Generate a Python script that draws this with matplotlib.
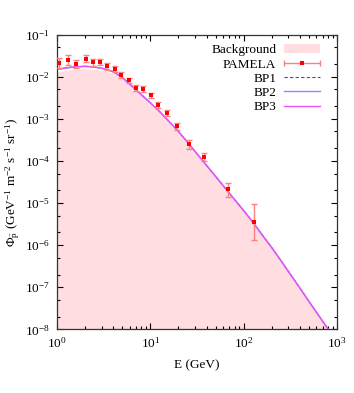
"""
Antiproton flux vs energy: background band, PAMELA data and three benchmark points.
"""

import matplotlib
matplotlib.use("Agg")
import matplotlib.pyplot as plt
from matplotlib.legend_handler import HandlerBase
from matplotlib.lines import Line2D
from matplotlib.patches import Patch
from matplotlib.ticker import LogLocator, NullFormatter

plt.rcParams["font.family"] = ["Liberation Serif", "DejaVu Serif"]
plt.rcParams["mathtext.fontset"] = "stix"
plt.rcParams["mathtext.default"] = "regular"

# ---- data ----
energy = [1.0, 1.26, 1.58, 2.0, 2.51, 3.16, 3.98, 5.01, 6.31, 7.94, 10.0,
          12.6, 15.8, 20.0, 25.1, 31.6, 39.8, 50.1, 63.1, 79.4, 100.0,
          126, 158, 200, 251, 316, 398, 501, 631, 794, 1000]

bp_flux = [1.48e-2, 1.62e-2, 1.72e-2, 1.76e-2, 1.70e-2, 1.55e-2, 1.32e-2,
           9.55e-3, 6.03e-3, 3.80e-3, 2.40e-3, 1.48e-3, 8.71e-4, 5.01e-4,
           2.75e-4, 1.48e-4, 7.94e-5, 4.27e-5, 2.29e-5, 1.23e-5, 6.61e-6,
           3.47e-6, 1.74e-6, 8.71e-7, 4.27e-7, 2.04e-7, 9.77e-8, 4.57e-8,
           2.19e-8, 1.05e-8, 5.0e-9]

bkg_flux = [1.26e-2, 1.38e-2, 1.46e-2, 1.50e-2, 1.46e-2, 1.36e-2, 1.18e-2,
            8.90e-3, 5.80e-3, 3.70e-3, 2.35e-3, 1.46e-3, 8.60e-4, 4.95e-4,
            2.72e-4, 1.47e-4, 7.90e-5, 4.25e-5, 2.28e-5, 1.22e-5, 6.58e-6,
            3.45e-6, 1.73e-6, 8.68e-7, 4.25e-7, 2.03e-7, 9.74e-8, 4.56e-8,
            2.18e-8, 1.05e-8, 5.0e-9]

pam_e = [1.06, 1.32, 1.61, 2.03, 2.43, 2.89, 3.46, 4.15, 4.89, 5.86,
         6.97, 8.41, 10.1, 12.2, 15.1, 19.5, 26.2, 37.6, 67.5, 129]
pam_flux = [2.12e-2, 2.44e-2, 2.00e-2, 2.68e-2, 2.19e-2, 2.24e-2, 1.76e-2,
            1.52e-2, 1.12e-2, 8.2e-3, 5.4e-3, 5.1e-3, 3.6e-3, 2.1e-3,
            1.38e-3, 6.6e-4, 2.5e-4, 1.27e-4, 2.2e-5, 3.5e-6]
pam_low = [1.61e-2, 1.86e-2, 1.61e-2, 2.19e-2, 1.83e-2, 1.86e-2, 1.47e-2,
           1.26e-2, 9.46e-3, 7.0e-3, 4.64e-3, 4.4e-3, 3.08e-3, 1.78e-3,
           1.15e-3, 5.5e-4, 1.9e-4, 1.02e-4, 1.4e-5, 1.35e-6]
pam_high = [2.79e-2, 3.34e-2, 2.54e-2, 3.34e-2, 2.68e-2, 2.68e-2, 2.09e-2,
            1.83e-2, 1.32e-2, 9.46e-3, 6.3e-3, 6.0e-3, 4.16e-3, 2.47e-3,
            1.64e-3, 7.8e-4, 3.1e-4, 1.5e-4, 3.0e-5, 9.3e-6]

FILL = "#ffdde0"
ERR = "#ff8080"
BP_COLORS = {"BP1": "#555555", "BP2": "#8c8cff", "BP3": "#f050f8"}


class ErrorBarHandler(HandlerBase):
    """gnuplot-style legend sample: horizontal bar with end caps and a dot."""

    def create_artists(self, legend, orig, xd, yd, w, h, fs, trans):
        y = h / 2 - yd
        bar = Line2D([-xd, w - xd], [y, y], color=ERR, lw=1.0,
                     marker="|", markersize=5, markeredgewidth=1.0)
        dot = Line2D([w / 2 - xd], [y], color="red", marker="s",
                     markersize=2.2, markeredgewidth=0, linestyle="none")
        for a in (bar, dot):
            a.set_transform(trans)
        return [bar, dot]


def main():
    fig = plt.figure(figsize=(3.54, 3.93), dpi=100)
    ax = fig.add_axes([0.161, 0.162, 0.791, 0.750])

    ax.fill_between(energy, 1e-12, bkg_flux, color=FILL, lw=0)
    ax.plot(energy, bp_flux, color=BP_COLORS["BP1"], lw=0.8, ls=(0, (3, 2)))
    ax.plot(energy, bp_flux, color=BP_COLORS["BP2"], lw=1.0)
    ax.plot(energy, bp_flux, color=BP_COLORS["BP3"], lw=1.0)

    yerr = [[f - lo for f, lo in zip(pam_flux, pam_low)],
            [hi - f for f, hi in zip(pam_flux, pam_high)]]
    ax.errorbar(pam_e, pam_flux, yerr=yerr, fmt="none", ecolor=ERR,
                elinewidth=1.0, capsize=2.2, capthick=1.0, zorder=5)
    ax.plot(pam_e, pam_flux, "s", color="red", markersize=2.2,
            markeredgewidth=0, zorder=6)

    ax.set_xscale("log")
    ax.set_yscale("log")
    ax.set_xlim(1, 1000)
    ax.set_ylim(1e-8, 1e-1)

    ax.xaxis.set_major_locator(LogLocator(base=10, numticks=10))
    ax.xaxis.set_minor_locator(LogLocator(base=10, subs=range(2, 10), numticks=20))
    ax.yaxis.set_major_locator(LogLocator(base=10, numticks=20))
    ax.yaxis.set_minor_locator(LogLocator(base=10, subs=(2, 5), numticks=20))
    ax.xaxis.set_minor_formatter(NullFormatter())
    ax.yaxis.set_minor_formatter(NullFormatter())
    ax.tick_params(which="both", direction="in", top=True, right=True,
                   labelsize=9.5, width=0.8, pad=5)
    ax.tick_params(which="major", length=4)
    ax.tick_params(which="minor", length=2)
    for s in ax.spines.values():
        s.set_linewidth(0.9)
        s.set_color("#333333")

    ax.set_xlabel("E (GeV)", fontsize=9.5, labelpad=6)
    ax.set_ylabel(r"$\Phi_{\bar{p}}$ (GeV$^{-1}$ m$^{-2}$ s$^{-1}$ sr$^{-1}$)",
                  fontsize=9.5, labelpad=2)

    pam_handle = Line2D([], [])
    handles = [Patch(facecolor=FILL, edgecolor="none"),
               pam_handle,
               Line2D([], [], color=BP_COLORS["BP1"], lw=0.8, ls=(0, (3, 2))),
               Line2D([], [], color=BP_COLORS["BP2"], lw=1.0),
               Line2D([], [], color=BP_COLORS["BP3"], lw=1.0)]
    labels = ["Background", "PAMELA", "BP1", "BP2", "BP3"]
    ax.legend(handles, labels, loc="upper right", bbox_to_anchor=(0.962, 0.99),
              frameon=False, markerfirst=False, fontsize=9.5, handlelength=2.7,
              handletextpad=0.6, labelspacing=0.15, borderpad=0,
              handler_map={pam_handle: ErrorBarHandler()})

    fig.savefig("out.png", dpi=100)
    plt.close(fig)


if __name__ == "__main__":
    main()
